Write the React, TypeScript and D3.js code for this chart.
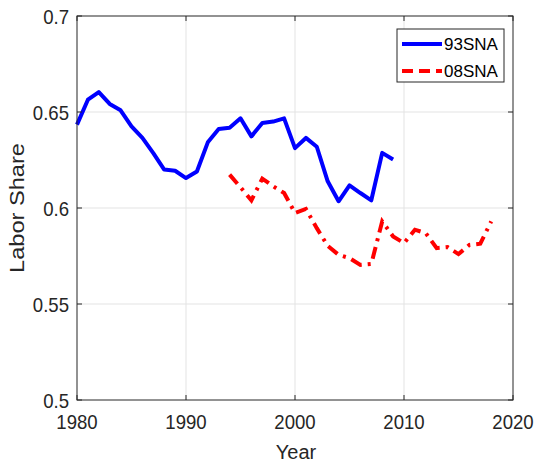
import React from "react";
import * as d3 from "d3";

const years93 = d3.range(1980, 2010);
const values93 = [
  0.6434, 0.6564, 0.6604, 0.6542, 0.6509, 0.6425, 0.6365, 0.6286, 0.62, 0.6194,
  0.6156, 0.619, 0.6342, 0.6411, 0.6418, 0.6467, 0.6373, 0.6443, 0.645, 0.6467,
  0.6312, 0.6365, 0.6319, 0.6139, 0.6035, 0.6118, 0.6078, 0.604, 0.6287, 0.6253,
];
const years08 = d3.range(1994, 2019);
const values08 = [
  0.6174, 0.6108, 0.604, 0.6153, 0.6113, 0.6078, 0.5974, 0.5995, 0.5895, 0.5803,
  0.5756, 0.5739, 0.5704, 0.5709, 0.593, 0.5852, 0.5817, 0.5887, 0.5869, 0.5791,
  0.5796, 0.576, 0.5808, 0.5814, 0.593,
];
const xTicks = [1980, 1990, 2000, 2010, 2020];
const yTicks = [0.5, 0.55, 0.6, 0.65, 0.7];
const yTickLabels = ["0.5", "0.55", "0.6", "0.65", "0.7"];
const seriesNames = ["93SNA", "08SNA"];

export default function App() {
  const W = 537, H = 462;
  const L = 77, R = 513, T = 16, B = 400;
  const x = d3.scaleLinear().domain([1980, 2020]).range([L, R]);
  const y = d3.scaleLinear().domain([0.5, 0.7]).range([B, T]);
  const line = d3.line<[number, number]>().x(d => x(d[0])).y(d => y(d[1]));
  const d93 = line(years93.map((yr, i) => [yr, values93[i]]));
  const d08 = line(years08.map((yr, i) => [yr, values08[i]]));
  const font = "'Liberation Sans', Arial, sans-serif";
  const axisColor = "#262626";
  return (
    <svg width={W} height={H} style={{ position: "absolute", left: 0, top: 0 }} fontFamily={font}>
      <rect x={0} y={0} width={W} height={H} fill="white" />
      {xTicks.slice(1, -1).map(t => (
        <line key={"gx" + t} x1={x(t)} x2={x(t)} y1={T} y2={B} stroke="#e3e3e3" strokeWidth={1} />
      ))}
      {yTicks.slice(1, -1).map(t => (
        <line key={"gy" + t} x1={L} x2={R} y1={y(t)} y2={y(t)} stroke="#e3e3e3" strokeWidth={1} />
      ))}
      <path d={d93 || ""} fill="none" stroke="#0000ff" strokeWidth={4} strokeLinejoin="round" />
      <path d={d08 || ""} fill="none" stroke="#ff0000" strokeWidth={4} strokeDasharray="12,6,3,6" />
      <rect x={L} y={T} width={R - L} height={B - T} fill="none" stroke={axisColor} strokeWidth={1} />
      {xTicks.map(t => (
        <g key={"tx" + t}>
          <line x1={x(t)} x2={x(t)} y1={B} y2={B - 5} stroke={axisColor} />
          <line x1={x(t)} x2={x(t)} y1={T} y2={T + 5} stroke={axisColor} />
          <text transform={`translate(${x(t)},${B + 29}) scale(0.93,1)`} textAnchor="middle" fontSize={20} fill={axisColor}>{t}</text>
        </g>
      ))}
      {yTicks.map((t, i) => (
        <g key={"ty" + t}>
          <line x1={L} x2={L + 5} y1={y(t)} y2={y(t)} stroke={axisColor} />
          <line x1={R} x2={R - 5} y1={y(t)} y2={y(t)} stroke={axisColor} />
          <text transform={`translate(${L - 8},${y(t) + 7.5}) scale(0.93,1)`} textAnchor="end" fontSize={20} fill={axisColor}>{yTickLabels[i]}</text>
        </g>
      ))}
      <text x={296} y={459} textAnchor="middle" fontSize={20} fill={axisColor}>Year</text>
      <text transform={`translate(24,208) rotate(-90)`} textAnchor="middle" fontSize={20} textLength={130} lengthAdjust="spacingAndGlyphs" fill={axisColor}>Labor Share</text>
      <rect x={397} y={29} width={107} height={53} fill="white" stroke={axisColor} strokeWidth={1} />
      <line x1={402} x2={442} y1={44} y2={44} stroke="#0000ff" strokeWidth={4} />
      <line x1={402} x2={442} y1={71} y2={71} stroke="#ff0000" strokeWidth={4} strokeDasharray="11,6" />
      <text x={444} y={50} fontSize={17} fill="#000">{seriesNames[0]}</text>
      <text x={444} y={76.5} fontSize={17} fill="#000">{seriesNames[1]}</text>
    </svg>
  );
}
